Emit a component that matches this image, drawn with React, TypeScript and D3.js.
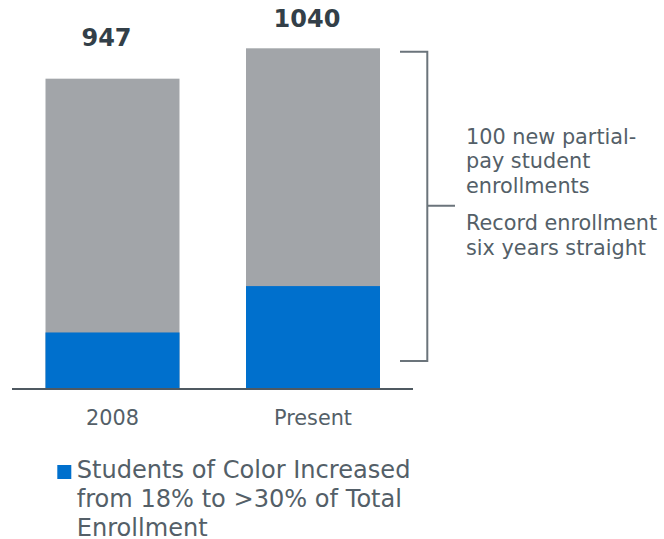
import React from "react";
import * as d3 from "d3";

const categories = ["2008", "Present"];
const totals = [947, 1040];
const studentsOfColor = [170, 312];
const annotationLines1 = ["100 new partial-", "pay student", "enrollments"];
const annotationLines2 = ["Record enrollment", "six years straight"];
const legendLines = ["Students of Color Increased", "from 18% to >30% of Total", "Enrollment"];

const W = 664;
const H = 539;
const FONT = "'DejaVu Sans', Verdana, sans-serif";
const GRAY = "#a2a5a9";
const BLUE = "#0070cd";
const DARK = "#333f48";
const TEXT = "#545f68";
const LINE = "#6b747b";

export default function App() {
  const x = d3.scaleBand<string>().domain(categories).range([45.5, 380]).paddingInner(0.3317).paddingOuter(0);
  const y = d3.scaleLinear().domain([0, 1040]).range([388, 48.3]);
  const labelOffsets = [32.3, 21.6];

  return (
    <svg width={W} height={H} style={{ position: "absolute", left: 0, top: 0, background: "#fff" }} fontFamily={FONT}>
      {categories.map((c, i) => {
        const bx = x(c)!;
        const bw = x.bandwidth();
        return (
          <g key={c}>
            <rect x={bx} y={y(totals[i])} width={bw} height={y(0) - y(totals[i])} fill={GRAY} />
            <rect x={bx} y={y(studentsOfColor[i])} width={bw} height={y(0) - y(studentsOfColor[i])} fill={BLUE} />
            <text x={bx + bw / 2 - 6} y={y(totals[i]) - labelOffsets[i]} textAnchor="middle" fontSize={24} fontWeight="bold" fill={DARK}>
              {totals[i]}
            </text>
            <text x={bx + bw / 2} y={425} textAnchor="middle" fontSize={20.8} fill={TEXT}>
              {c}
            </text>
          </g>
        );
      })}
      <line x1={12} x2={413} y1={389} y2={389} stroke="#4f5961" strokeWidth={2} />
      <path d="M400,51.7 H427.3 V361 H400 M427.3,205.7 H455" fill="none" stroke={LINE} strokeWidth={2} />
      {annotationLines1.map((t, i) => (
        <text key={t} x={466} y={143.5 + i * 24.5} fontSize={20.8} fill={TEXT}>{t}</text>
      ))}
      {annotationLines2.map((t, i) => (
        <text key={t} x={466} y={230 + i * 24.5} fontSize={20.8} fill={TEXT}>{t}</text>
      ))}
      <rect x={57.3} y={465} width={14} height={14} fill={BLUE} />
      {legendLines.map((t, i) => (
        <text key={t} x={76.7} y={478.3 + i * 28.6} fontSize={24.1} fill={TEXT}>{t}</text>
      ))}
    </svg>
  );
}
